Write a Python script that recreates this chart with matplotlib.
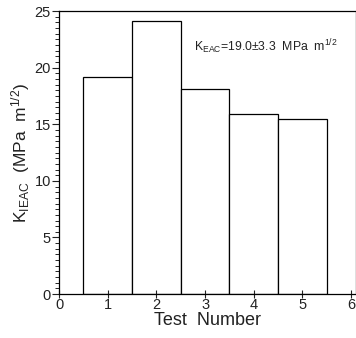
import matplotlib
matplotlib.use("Agg")
import matplotlib.pyplot as plt
from matplotlib.ticker import MultipleLocator

matplotlib.rcParams["font.family"] = ["Liberation Sans", "DejaVu Sans"]
matplotlib.rcParams["mathtext.fontset"] = "custom"
matplotlib.rcParams["mathtext.rm"] = "Liberation Sans"
matplotlib.rcParams["mathtext.it"] = "Liberation Sans"

# data
tests = [1, 2, 3, 4, 5]
k_ieac = [19.2, 24.1, 18.1, 15.9, 15.5]
x_ticks = [0, 1, 2, 3, 4, 5, 6]
y_ticks = [0, 5, 10, 15, 20, 25]
note = r"K$_{\mathrm{EAC}}$=19.0$\pm$3.3  MPa  m$^{1/2}$"

fig = plt.figure(figsize=(3.56, 3.38), dpi=100)
ax = fig.add_axes([0.166, 0.130, 0.834, 0.837])

ax.bar(tests, k_ieac, width=1.0, color="white", edgecolor="black", linewidth=0.9)

ax.set_xlim(0, 6.1)
ax.set_ylim(0, 25)
ax.set_xticks(x_ticks)
ax.set_yticks(y_ticks)
ax.yaxis.set_minor_locator(MultipleLocator(0.5))
ax.tick_params(axis="y", which="major", direction="out", length=5, width=0.8,
               labelsize=10.5, pad=1, colors="#222222")
ax.tick_params(axis="y", which="minor", direction="out", length=3, width=0.6)
ax.tick_params(axis="x", which="major", direction="inout", length=6, width=0.8,
               labelsize=10.5, pad=0, colors="#222222")

for side in ["left", "bottom", "top", "right"]:
    ax.spines[side].set_linewidth(0.9)

ax.set_xlabel("Test  Number", fontsize=13, labelpad=0, color="#222222")
ax.set_ylabel(r"K$_{\mathrm{IEAC}}$  (MPa  m$^{1/2}$)", fontsize=12.5,
              labelpad=2, color="#222222")

ax.text(0.455, 0.86, note, transform=ax.transAxes, fontsize=8.8, color="#222222")

fig.savefig("out.png", dpi=100)
